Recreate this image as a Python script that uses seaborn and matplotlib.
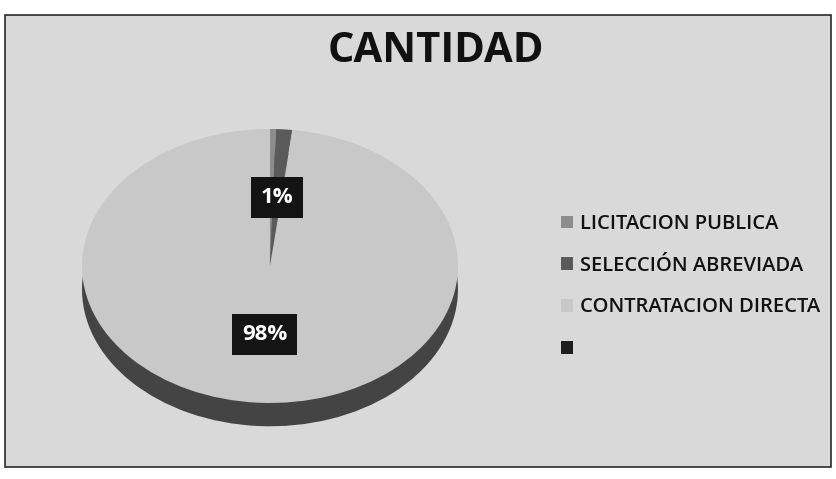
import matplotlib
matplotlib.use("Agg")
import matplotlib.pyplot as plt
from matplotlib.patches import Rectangle
import seaborn as sns

# Valores (porcentaje de contratos por modalidad)
categorias = ["LICITACION PUBLICA", "SELECCIÓN ABREVIADA", "CONTRATACION DIRECTA", ""]
porcentajes = [0.5, 1.4, 98.1, 0.0]
titulo = "CANTIDAD"

# tonos de gris (la imagen original es un escaneo en blanco y negro)
colores_cara = ["#8c8c8c", "#5a5a5a", "#c8c8c8", "#1e1e1e"]
colores_lado = ["#5e5e5e", "#3a3a3a", "#444444", "#111111"]
fondo = "#d9d9d9"


def etiqueta(p):
    """Solo se muestran las etiquetas de 1% o mas."""
    return f"{p:.0f}%" if p >= 1 else ""


def dibujar():
    sns.set_theme(style="white")
    plt.rcParams["font.family"] = ["Open Sans", "DejaVu Sans"]

    fig = plt.figure(figsize=(8.36, 4.79), dpi=100, facecolor="white")
    # marco del grafico escaneado, por debajo de los ejes
    fig.patches.append(Rectangle((0.006, 0.026), 0.988, 0.943, transform=fig.transFigure,
                                 facecolor=fondo, edgecolor="#2a2a2a", lw=1.2, zorder=-1))

    ax = fig.add_axes([0.0756, 0.0443, 0.4947, 0.715])
    ax.patch.set_alpha(0)

    # canto del pastel (efecto 3D): el mismo pastel desplazado hacia abajo
    profundidad = 0.17
    ax.pie(porcentajes, colors=colores_lado, startangle=90, counterclock=False,
           center=(0, -profundidad), wedgeprops=dict(linewidth=0))

    # cara superior
    cuñas, _, textos = ax.pie(porcentajes, colors=colores_cara, startangle=90,
                              counterclock=False, autopct=etiqueta, pctdistance=0.5,
                              wedgeprops=dict(linewidth=0),
                              textprops=dict(color="white", fontsize=16, fontweight="bold"))
    for t in textos:
        if t.get_text():
            t.set_bbox(dict(boxstyle="square,pad=0.45", facecolor="#141414", edgecolor="none"))

    ax.set_aspect("auto")
    ax.set_xlim(-1.1, 1.1)
    ax.set_ylim(-1.4, 1.1)
    ax.axis("off")

    fig.text(436 / 836, 1 - 51 / 479, titulo, ha="center", va="center",
             fontsize=30, fontweight="bold", color="#111111")

    fig.legend(handles=cuñas, labels=categorias, loc="upper left",
               bbox_to_anchor=(561 / 836, 1 - 214 / 479), frameon=False,
               handlelength=0.6, handleheight=0.6, handletextpad=0.35,
               labelspacing=1.08, borderpad=0, borderaxespad=0, labelcolor="#111111",
               prop=dict(size=14.5, weight="semibold"))

    fig.savefig("out.png", dpi=100, facecolor=fig.get_facecolor())


if __name__ == "__main__":
    dibujar()
